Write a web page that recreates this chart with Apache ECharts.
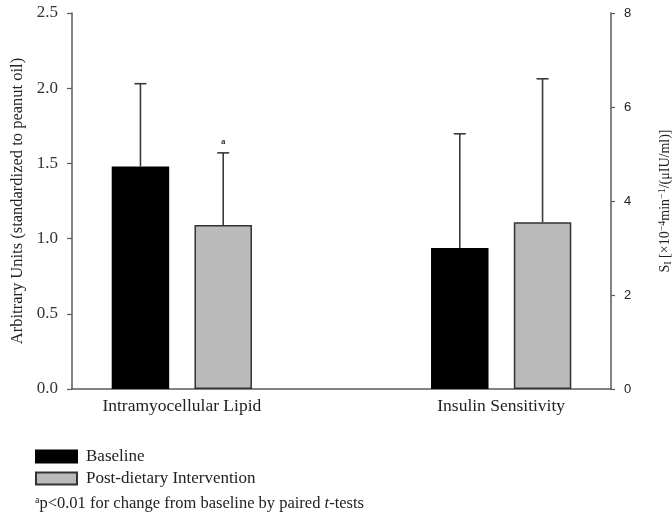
<!DOCTYPE html>
<html>
<head>
<meta charset="utf-8">
<script src="https://cdn.jsdelivr.net/npm/echarts@6/dist/echarts.min.js"></script>
<style>html,body{margin:0;padding:0;background:#fff;}#c{width:672px;height:520px;}</style>
</head>
<body>
<div id="c"></div>
<script>
// ---- data ----
const categories = ['Intramyocellular Lipid', '', 'Insulin Sensitivity'];
const seriesNames = ['Baseline', 'Post-dietary Intervention'];
const imclMean = [1.48, 1.09];   // arbitrary units (left axis)
const imclSD   = [0.55, 0.48];
const imclSig  = ['', 'a'];
const siMean   = [3.0, 3.55];    // SI (right axis)
const siSD     = [2.43, 3.05];
const siSig    = ['', ''];
const leftTicks  = {min: 0, max: 2.5, interval: 0.5};
const rightTicks = {min: 0, max: 8, interval: 2};

// ---- style ----
const SERIF = '"Liberation Serif", "DejaVu Serif", serif';
const SANS = '"Liberation Sans", Arial, sans-serif';
const TXT = '#222';
const AX = '#5a5a5a';
const fills = ['#000000', '#bababa'];
const borders = ['#000000', '#333333'];
const BAR_FRAC = 0.36, GAP_FRAC = 0.44;

const chart = echarts.init(document.getElementById('c'));

function errSeries(name, mean, sd, sig, yIdx) {
  return {
    type: 'custom', name: name + '-err', xAxisIndex: 0, yAxisIndex: yIdx, z: 5,
    data: mean.map((m, g) => [categories.indexOf(name), m, sd[g], g]),
    renderItem: function (params, api) {
      const cat = api.value(0), m = api.value(1), s = api.value(2), g = api.value(3);
      const band = api.size([1, 0])[0];
      const bw = band * BAR_FRAC;
      const off = (bw + bw * GAP_FRAC) / 2 * (g === 0 ? -1 : 1);
      const p0 = api.coord([cat, m]);
      const p1 = api.coord([cat, m + s]);
      const x = p0[0] + off;
      const st = {stroke: '#3a3a3a', lineWidth: 1.6};
      const children = [
        {type: 'line', shape: {x1: x, y1: p0[1], x2: x, y2: p1[1]}, style: st},
        {type: 'line', shape: {x1: x - 6, y1: p1[1], x2: x + 6, y2: p1[1]}, style: st}
      ];
      const t = sig[params.dataIndex];
      if (t) children.push({type: 'text', x: x, y: p1[1] - 11,
        style: {text: t, fill: '#333', font: 'bold 9px ' + SERIF, align: 'center', verticalAlign: 'middle'}});
      return {type: 'group', children: children};
    }
  };
}

function barSeries(name, g, values, catIdx, yIdx) {
  const d = categories.map(() => null);
  d[catIdx] = values[g];
  return {
    type: 'bar', name: name, stack: 'g' + g, xAxisIndex: 0, yAxisIndex: yIdx,
    barWidth: (BAR_FRAC * 100) + '%', barGap: (GAP_FRAC * 100) + '%',
    itemStyle: {color: fills[g], borderColor: borders[g], borderWidth: 1.5},
    data: d
  };
}

const option = {
  animation: false,
  backgroundColor: '#fff',
  grid: [
    {left: 102, right: 91, top: 13, bottom: 131, containLabel: false, outerBoundsMode: 'none'},
    {left: 72, right: 61, top: 13, bottom: 131, containLabel: false, outerBoundsMode: 'none'}
  ],
  xAxis: [
    {gridIndex: 0, type: 'category', data: categories, axisLine: {show: false}, axisTick: {show: false},
     axisLabel: {color: TXT, fontFamily: SERIF, fontSize: 17.5, margin: 8}},
    {gridIndex: 1, type: 'value', min: 0, max: 1, axisLine: {show: true, lineStyle: {color: AX, width: 1.5}},
     axisTick: {show: false}, axisLabel: {show: false}, splitLine: {show: false}}
  ],
  yAxis: [
    {gridIndex: 0, type: 'value', min: leftTicks.min, max: leftTicks.max, show: false},
    {gridIndex: 0, type: 'value', min: rightTicks.min, max: rightTicks.max, show: false},
    {gridIndex: 1, type: 'value', position: 'left', min: leftTicks.min, max: leftTicks.max, interval: leftTicks.interval,
     axisLine: {show: true, lineStyle: {color: AX, width: 1.5}},
     axisTick: {show: true, length: 5, lineStyle: {color: AX, width: 1.2}},
     axisLabel: {color: '#333', fontFamily: SERIF, fontSize: 17, margin: 14, formatter: v => v.toFixed(1)},
     splitLine: {show: false},
     name: 'Arbitrary Units (standardized to peanut oil)', nameLocation: 'middle', nameGap: 44, nameRotate: 90,
     nameTextStyle: {color: TXT, fontFamily: SERIF, fontSize: 16.5}},
    {gridIndex: 1, type: 'value', position: 'right', min: rightTicks.min, max: rightTicks.max, interval: rightTicks.interval,
     axisLine: {show: true, lineStyle: {color: AX, width: 1.5}},
     axisTick: {show: true, length: 4, lineStyle: {color: AX, width: 1.2}},
     axisLabel: {color: TXT, fontFamily: SANS, fontSize: 13, margin: 13},
     splitLine: {show: false},
     name: '{n|S}{sub|I}{n| [×10}{sup|−4}{n|min}{sup|−1}{n|/(μIU/ml)]}', nameLocation: 'middle', nameGap: 46, nameRotate: 90,
     nameTextStyle: {color: TXT, fontFamily: SERIF, fontSize: 14,
       rich: {n: {fontFamily: SERIF, fontSize: 14, color: TXT},
              sub: {fontFamily: SERIF, fontSize: 10, color: TXT, verticalAlign: 'bottom', padding: [6, 0, 0, 0]},
              sup: {fontFamily: SERIF, fontSize: 10, color: TXT, verticalAlign: 'top', padding: [0, 0, 6, 0]}}}}
  ],
  legend: {
    orient: 'vertical', left: 35, top: 448, padding: 0, itemWidth: 41, itemHeight: 12, itemGap: 5,
    icon: 'rect', selectedMode: false, data: seriesNames,
    textStyle: {color: TXT, fontFamily: SERIF, fontSize: 17, padding: [0, 0, 0, 4]}
  },
  graphic: [{
    type: 'text', left: 35, top: 495,
    style: {
      text: '{sup|a}{n|p<0.01 for change from baseline by paired }{i|t}{n|-tests}',
      rich: {
        n: {fontFamily: SERIF, fontSize: 16.5, fill: TXT},
        i: {fontFamily: SERIF, fontSize: 16.5, fontStyle: 'italic', fill: TXT},
        sup: {fontFamily: SERIF, fontSize: 10, fill: TXT, verticalAlign: 'top', padding: [0, 0, 7, 0]}
      }
    }
  }],
  series: [
    barSeries(seriesNames[0], 0, imclMean, 0, 0),
    barSeries(seriesNames[1], 1, imclMean, 0, 0),
    barSeries(seriesNames[0], 0, siMean, 2, 1),
    barSeries(seriesNames[1], 1, siMean, 2, 1),
    errSeries(categories[0], imclMean, imclSD, imclSig, 0),
    errSeries(categories[2], siMean, siSD, siSig, 1)
  ]
};
chart.setOption(option);
</script>
</body>
</html>
